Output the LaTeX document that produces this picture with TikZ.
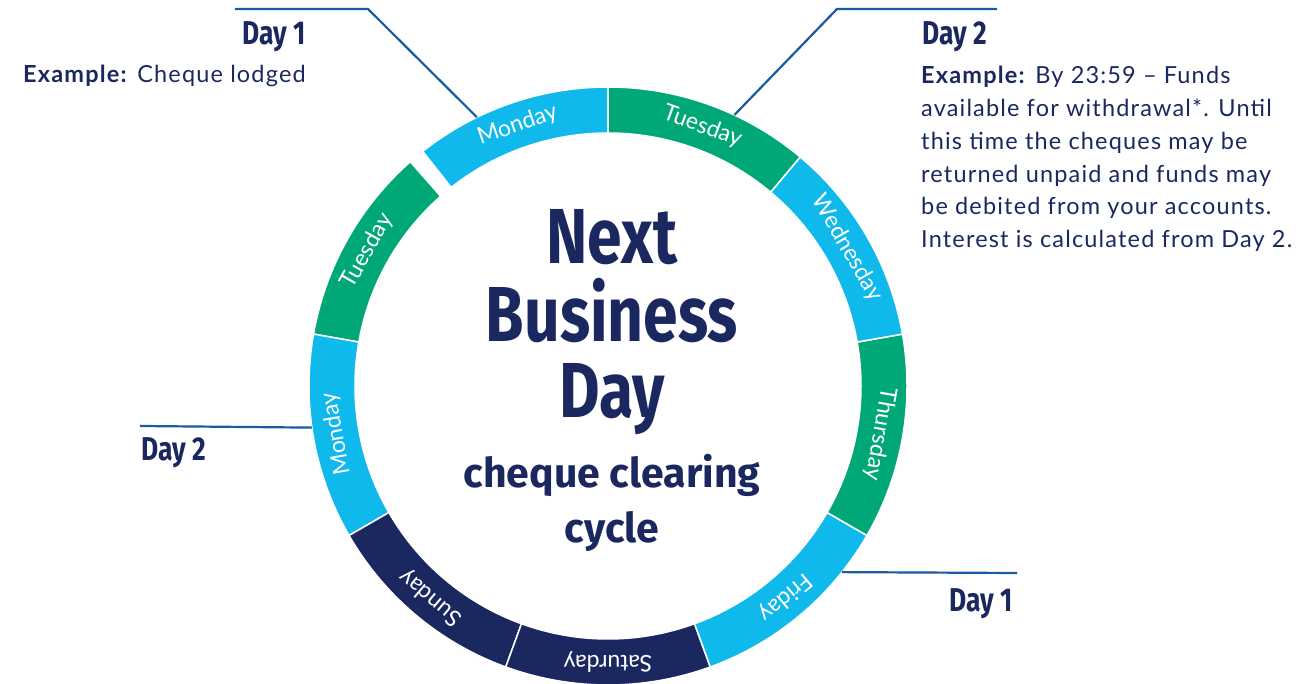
\documentclass[tikz,border=0pt]{standalone}
\usepackage{fontspec}
\setmainfont{Lato}
\newfontfamily\infofont[LetterSpace=5]{Lato}
\newfontfamily\headfont[FakeStretch=0.8]{Fira Sans}
\newfontfamily\subheadfont{Fira Sans}
\usetikzlibrary{positioning}
\definecolor{cyclesky}{RGB}{16,185,236}
\definecolor{cyclegreen}{RGB}{0,168,120}
\definecolor{cyclenavy}{RGB}{27,40,96}
\definecolor{leadblue}{RGB}{26,90,160}
\begin{document}
\begin{tikzpicture}[x=1pt,y=1pt,
  seg/.style={draw=white,line width=1.5pt},
  dayname/.style={text=white,inner sep=0,font=\fontsize{23}{23}\selectfont},
  daylabel/.style={text=cyclenavy,inner sep=0,font=\headfont\bfseries\fontsize{33}{33}\selectfont},
  title/.style={text=cyclenavy,inner sep=0,anchor=base,font=\headfont\bfseries\fontsize{78}{78}\selectfont},
  subtitle/.style={title,font=\subheadfont\bfseries\fontsize{41}{41}\selectfont},
  info/.style={text=cyclenavy,inner sep=0,align=left,font=\infofont\fontsize{23.5}{32.8}\selectfont},
  lead/.style={draw=leadblue,line width=2.2pt}]
\useasboundingbox (-608,-298) rectangle (700,386);

\foreach \a/\b/\c/\d [count=\i] in {90/128.3/cyclesky/Monday,131.4/170/cyclegreen/Tuesday,
    170/210/cyclesky/Monday,210/250/cyclenavy/Sunday,250/290/cyclenavy/Saturday,
    290/330/cyclesky/Friday,330/370/cyclegreen/Thursday,370/410/cyclesky/Wednesday,
    410/450/cyclegreen/Tuesday}
{
  \filldraw[seg,fill=\c] (\a:299) arc[start angle=\a,end angle=\b,radius=299]
    -- (\b:253) arc[start angle=\b,end angle=\a,radius=253] -- cycle;
  \node[dayname,rotate={(\a+\b)/2-90}] (ring\i) at ({(\a+\b)/2}:276) {\d};
}

\node[title] (next) at (4,122) {Next};
\node[title] (business) at (4,44) {Business};
\node[title] (bday) at (4,-32) {Day};
\node[subtitle] (clearing) at (4,-102) {cheque clearing};
\node[subtitle] (cycle) at (4,-157) {cycle};

\coordinate (tl-ring) at (116:299);
\coordinate (tl-bend) at (-240,377);
\coordinate (tl-end) at (-373,377);
\coordinate (tr-ring) at (65:299);
\coordinate (tr-bend) at (229,377);
\coordinate (tr-end) at (389,377);
\coordinate (l-ring) at (188:299);
\coordinate (l-end) at (-468,-40);
\coordinate (r-ring) at (-38.5:299);
\coordinate (r-end) at (409,-187);
\draw[lead] (tl-ring) -- (tl-bend) -- (tl-end);
\draw[lead] (tr-ring) -- (tr-bend) -- (tr-end);
\draw[lead] (l-ring) -- (l-end);
\draw[lead] (r-ring) -- (r-end);

\node[daylabel,anchor=base east] (tl-day) at (-302,341) {Day 1};
\node[info,anchor=base east] (tl-info) at (-302,303) {\textbf{Example:} Cheque lodged};
\node[daylabel,anchor=base west] (tr-day) at (314,341) {Day 2};
\node[info,anchor=north west] (tr-info) at (313,320) {\textbf{Example:} By 23:59 – Funds\\
  available for withdrawal*. Until\\ this time the cheques may be\\
  returned unpaid and funds may\\ be debited from your accounts.\\
  Interest is calculated from Day 2.};
\node[daylabel,anchor=base west] (l-day) at (-467,-75) {Day 2};
\node[daylabel,anchor=base east] (r-day) at (405,-226) {Day 1};
\end{tikzpicture}
\end{document}
